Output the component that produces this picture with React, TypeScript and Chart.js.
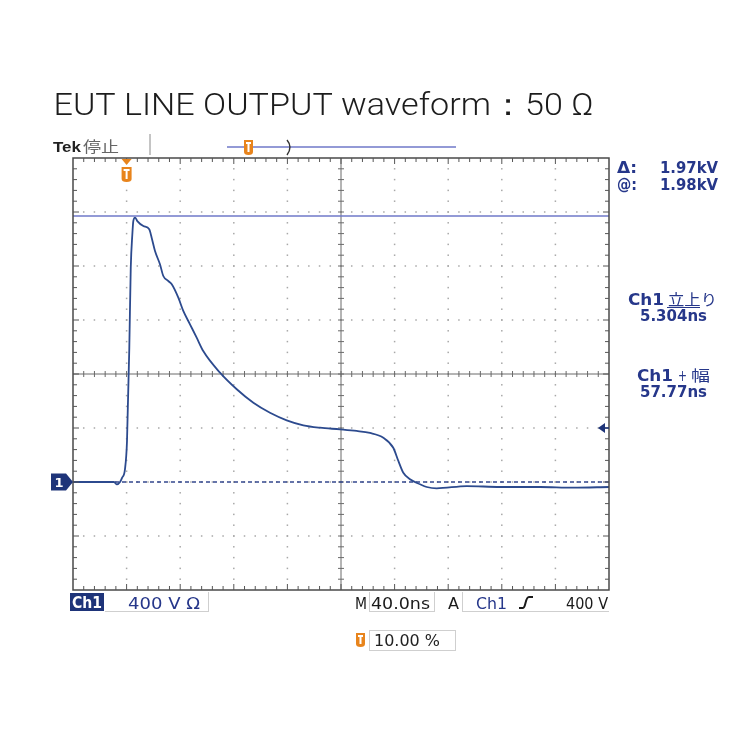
import React, { useEffect, useRef } from "react";
import { Chart, registerables } from "chart.js";

Chart.register(...registerables);

// ---- data (time in ns, Ch1 in volts relative to ground marker) ----
const timeNs = [
  0, 20, 30.6, 32.8, 35.1, 36.6, 38.8, 40.3, 42.0, 43.1, 44.3, 45.0, 46.3, 48.0,
  52.5, 56.9, 58.7, 61.2, 64.9, 67.4, 71.1, 73.7, 78.6, 82.3, 87.3, 92.3, 97.2,
  109.7, 122.2, 134.6, 147.0, 159.5, 171.9, 184.3, 199.3, 211.7, 221.6, 231.6,
  239.0, 242.8, 246.5, 251.5, 259.0, 264.0, 271.4, 293.8, 318.7, 348.5, 373.1, 400,
];
const ch1Volts = [
  0, 0, 0, -18, 0, 30, 96, 304, 985, 1585, 1837, 1933, 1959, 1933,
  1896, 1872, 1810, 1711, 1613, 1526, 1489, 1464, 1365, 1267, 1168, 1069, 970,
  810, 687, 587, 513, 457, 420, 402, 390, 378, 363, 328,
  254, 156, 69, 20, -17, -37, -47, -30, -37, -37, -42, -37,
];
const cursorLevelV = 1970;
const groundLevelV = 0;
const triggerLevelV = 400;
const triggerTimeNs = 40;
const xMinNs = 0;
const xMaxNs = 400;
const yMinV = -800;
const yMaxV = 2400;

const titleText = "EUT LINE OUTPUT waveform：50 Ω";
const readoutDelta = ["Δ:", "1.97kV"];
const readoutAt = ["@:", "1.98kV"];
const riseLabel = ["Ch1", "立上り", "5.304ns"];
const widthLabel = ["Ch1", "+", "幅", "57.77ns"];
const bottomLabels = ["Ch1", "400 V Ω", "M", "40.0ns", "A", "Ch1", "400 V"];
const triggerPosLabel = "10.00 %";

const NAVY = "#26378a";
const ORANGE = "#e8841c";
const SCOPE_FONT = "'DejaVu Sans', sans-serif";

type LblOpts = {
  size: number;
  color: string;
  weight?: string;
  family?: string;
  width?: number;
  align?: "left" | "center" | "right";
};

function label(ctx: CanvasRenderingContext2D, s: string, x: number, y: number, o: LblOpts) {
  ctx.save();
  ctx.font = `${o.weight || "normal"} ${o.size}px ${o.family || SCOPE_FONT}`;
  ctx.fillStyle = o.color;
  ctx.textBaseline = "alphabetic";
  ctx.textAlign = "left";
  const m = ctx.measureText(s).width;
  const sx = o.width ? o.width / m : 1;
  const w = m * sx;
  const x0 = o.align === "center" ? x - w / 2 : o.align === "right" ? x - w : x;
  ctx.translate(x0, y);
  ctx.scale(sx, 1);
  ctx.fillText(s, 0, 0);
  ctx.restore();
}

function tMarker(ctx: CanvasRenderingContext2D, x: number, y: number, w: number, h: number) {
  ctx.save();
  ctx.fillStyle = ORANGE;
  ctx.beginPath();
  ctx.moveTo(x, y);
  ctx.lineTo(x + w, y);
  ctx.lineTo(x + w, y + h - 3);
  ctx.quadraticCurveTo(x + w, y + h, x + w / 2, y + h);
  ctx.quadraticCurveTo(x, y + h, x, y + h - 3);
  ctx.closePath();
  ctx.fill();
  ctx.fillStyle = "#fff";
  ctx.fillRect(x + 2, y + 2, w - 4, 2);
  ctx.fillRect(x + w / 2 - 1, y + 2, 2, h - 5);
  ctx.restore();
}

const scopePlugin = {
  id: "scope",
  beforeDatasetsDraw(chart: any) {
    const { ctx, chartArea } = chart;
    const { left: L, top: T, right: R, bottom: B } = chartArea;
    const dx = (R - L) / 10;
    const dy = (B - T) / 8;
    ctx.save();
    ctx.fillStyle = "#a8a8a8";
    for (let i = 1; i < 10; i++) {
      if (i === 5) continue;
      const x = L + i * dx;
      for (let j = 1; j < 40; j++) {
        const y = T + (j * dy) / 5;
        ctx.fillRect(x - 0.75, y - 0.75, 1.5, 1.5);
      }
    }
    for (let k = 1; k < 8; k++) {
      if (k === 4) continue;
      const y = T + k * dy;
      for (let j = 1; j < 50; j++) {
        const x = L + (j * dx) / 5;
        ctx.fillRect(x - 0.75, y - 0.75, 1.5, 1.5);
      }
    }
    // centre crosshair
    const cx = L + 5 * dx;
    const cy = T + 4 * dy;
    ctx.strokeStyle = "#6a6a6a";
    ctx.lineWidth = 1;
    ctx.beginPath();
    ctx.moveTo(cx, T);
    ctx.lineTo(cx, B);
    ctx.moveTo(L, cy);
    ctx.lineTo(R, cy);
    for (let j = 1; j < 40; j++) {
      const y = T + (j * dy) / 5;
      ctx.moveTo(cx - 3, y);
      ctx.lineTo(cx + 3, y);
    }
    for (let j = 1; j < 50; j++) {
      const x = L + (j * dx) / 5;
      ctx.moveTo(x, cy - 3);
      ctx.lineTo(x, cy + 3);
    }
    ctx.stroke();
    ctx.restore();
  },
  afterDatasetsDraw(chart: any) {
    const { ctx, chartArea, scales } = chart;
    const { left: L, top: T, right: R, bottom: B } = chartArea;
    const dx = (R - L) / 10;
    const dy = (B - T) / 8;
    ctx.save();
    // frame
    ctx.strokeStyle = "#4a4a4a";
    ctx.lineWidth = 1.5;
    ctx.strokeRect(L, T, R - L, B - T);
    ctx.lineWidth = 1;
    ctx.strokeStyle = "#555";
    ctx.beginPath();
    for (let j = 1; j < 50; j++) {
      const x = L + (j * dx) / 5;
      const len = j % 5 === 0 ? 6 : 4;
      ctx.moveTo(x, T);
      ctx.lineTo(x, T + len);
      ctx.moveTo(x, B);
      ctx.lineTo(x, B - len);
    }
    for (let j = 1; j < 40; j++) {
      const y = T + (j * dy) / 5;
      const len = j % 5 === 0 ? 6 : 4;
      ctx.moveTo(L, y);
      ctx.lineTo(L + len, y);
      ctx.moveTo(R, y);
      ctx.lineTo(R - len, y);
    }
    ctx.stroke();

    // ground marker "1"
    const gy = scales.y.getPixelForValue(groundLevelV);
    ctx.fillStyle = "#1e3479";
    ctx.beginPath();
    ctx.moveTo(51, gy - 8.5);
    ctx.lineTo(66, gy - 8.5);
    ctx.lineTo(73, gy);
    ctx.lineTo(66, gy + 8.5);
    ctx.lineTo(51, gy + 8.5);
    ctx.closePath();
    ctx.fill();
    label(ctx, "1", 59, gy + 5, { size: 13, color: "#fff", weight: "bold", align: "center" });

    // trigger level arrow (right edge)
    const ty = scales.y.getPixelForValue(triggerLevelV);
    ctx.fillStyle = "#1e3479";
    ctx.beginPath();
    ctx.moveTo(R - 11, ty);
    ctx.lineTo(R - 4, ty - 5);
    ctx.lineTo(R - 4, ty + 5);
    ctx.closePath();
    ctx.fill();
    ctx.strokeStyle = "#1e3479";
    ctx.lineWidth = 1.5;
    ctx.beginPath();
    ctx.moveTo(R - 5, ty);
    ctx.lineTo(R, ty);
    ctx.stroke();

    // trigger position marker on the graticule
    const tx = scales.x.getPixelForValue(triggerTimeNs);
    ctx.fillStyle = ORANGE;
    ctx.beginPath();
    ctx.moveTo(tx - 5, T + 1);
    ctx.lineTo(tx + 5, T + 1);
    ctx.lineTo(tx, T + 7);
    ctx.closePath();
    ctx.fill();
    tMarker(ctx, tx - 5, T + 9, 10, 15);

    // top status bar
    ctx.strokeStyle = "#8a8a8a";
    ctx.lineWidth = 1;
    ctx.beginPath();
    ctx.moveTo(150, 134);
    ctx.lineTo(150, 155);
    ctx.stroke();
    ctx.strokeStyle = "#6f78c9";
    ctx.lineWidth = 1.5;
    ctx.beginPath();
    ctx.moveTo(227, 147);
    ctx.lineTo(456, 147);
    ctx.stroke();
    tMarker(ctx, 244, 140, 9, 15);
    ctx.strokeStyle = "#333";
    ctx.lineWidth = 1.4;
    ctx.beginPath();
    ctx.moveTo(287, 140);
    ctx.quadraticCurveTo(293, 147, 287, 155);
    ctx.stroke();

    label(ctx, "Tek", 53, 152, { size: 15, color: "#222", weight: "bold", family: "'Liberation Sans', sans-serif", width: 28 });
    label(ctx, "停止", 83, 152, { size: 15, color: "#666", family: "'Noto Sans CJK JP', sans-serif", width: 36 });

    // title
    label(ctx, titleText, 53.5, 115, { size: 31, color: "#1c1c1c", weight: "300", family: "Roboto, 'Liberation Sans', sans-serif", width: 540 });

    // right readouts
    const ro = { size: 15, color: NAVY, weight: "bold" };
    label(ctx, readoutDelta[0], 617, 173, { ...ro, width: 20 });
    label(ctx, readoutDelta[1], 660, 173, { ...ro, width: 58 });
    label(ctx, readoutAt[0], 617, 190, { ...ro, width: 20 });
    label(ctx, readoutAt[1], 660, 190, { ...ro, width: 58 });

    label(ctx, riseLabel[0], 628, 305, { ...ro, width: 36 });
    label(ctx, riseLabel[1], 668, 305, { ...ro, weight: "normal", family: "'Noto Sans CJK JP', sans-serif", width: 49 });
    ctx.strokeStyle = NAVY;
    ctx.lineWidth = 1;
    ctx.beginPath();
    ctx.moveTo(667, 307.5);
    ctx.lineTo(700, 307.5);
    ctx.stroke();
    label(ctx, riseLabel[2], 640, 321, { ...ro, width: 67 });

    label(ctx, widthLabel[0], 637, 381, { ...ro, width: 36 });
    label(ctx, widthLabel[1], 678, 381, { ...ro, weight: "normal", width: 9 });
    label(ctx, widthLabel[2], 691, 381, { ...ro, weight: "normal", family: "'Noto Sans CJK JP', sans-serif", width: 19 });
    label(ctx, widthLabel[3], 640, 397, { ...ro, width: 67 });

    // bottom row
    ctx.fillStyle = "#1e3479";
    ctx.fillRect(70, 593, 34, 18);
    const bt = { size: 16, weight: "normal", color: "#1a1a1a" };
    label(ctx, bottomLabels[0], 72, 608, { ...bt, weight: "bold", color: "#fff", width: 30 });
    label(ctx, bottomLabels[1], 128, 609, { ...bt, color: NAVY, width: 72 });
    label(ctx, bottomLabels[2], 355, 609, { ...bt, width: 12 });
    label(ctx, bottomLabels[3], 371, 609, { ...bt, width: 59 });
    label(ctx, bottomLabels[4], 448, 609, { ...bt, width: 11 });
    label(ctx, bottomLabels[5], 476, 609, { ...bt, color: NAVY, width: 31 });
    label(ctx, bottomLabels[6], 566, 609, { ...bt, width: 42 });
    // rising-edge slope symbol
    ctx.strokeStyle = "#1a1a1a";
    ctx.lineWidth = 2;
    ctx.beginPath();
    ctx.moveTo(519, 608);
    ctx.lineTo(523, 608);
    ctx.bezierCurveTo(526, 608, 525, 597, 529, 597);
    ctx.lineTo(533, 597);
    ctx.stroke();
    ctx.strokeStyle = "#cfcfcf";
    ctx.lineWidth = 1;
    ctx.beginPath();
    for (const vx of [208.5, 369.5, 434.5, 462.5]) {
      ctx.moveTo(vx, 592);
      ctx.lineTo(vx, 612);
    }
    ctx.moveTo(105, 611.5);
    ctx.lineTo(208, 611.5);
    ctx.moveTo(369, 611.5);
    ctx.lineTo(434, 611.5);
    ctx.moveTo(462, 611.5);
    ctx.lineTo(609, 611.5);
    ctx.stroke();

    // trigger position readout
    tMarker(ctx, 356, 633, 9, 14);
    ctx.strokeStyle = "#cfcfcf";
    ctx.strokeRect(369.5, 630.5, 86, 20);
    label(ctx, triggerPosLabel, 374, 646, { size: 15, color: "#222", width: 66 });

    ctx.restore();
  },
};

export default function App() {
  const ref = useRef<HTMLCanvasElement | null>(null);
  useEffect(() => {
    if (!ref.current) return;
    const chart = new Chart(ref.current, {
      type: "line",
      data: {
        datasets: [
          {
            label: "Ch1",
            data: timeNs.map((t, i) => ({ x: t, y: ch1Volts[i] })),
            borderColor: "#2c4a8e",
            borderWidth: 1.8,
            pointRadius: 0,
            cubicInterpolationMode: "monotone",
            order: 1,
          },
          {
            label: "cursor",
            data: [
              { x: xMinNs, y: cursorLevelV },
              { x: xMaxNs, y: cursorLevelV },
            ],
            borderColor: "#6f78c9",
            borderWidth: 1.5,
            pointRadius: 0,
            order: 2,
          },
          {
            label: "ground",
            data: [
              { x: xMinNs, y: groundLevelV },
              { x: xMaxNs, y: groundLevelV },
            ],
            borderColor: "#34488f",
            borderWidth: 1.6,
            borderDash: [4, 3],
            pointRadius: 0,
            order: 3,
          },
        ],
      },
      options: {
        responsive: false,
        animation: false,
        devicePixelRatio: 1,
        events: [],
        layout: { padding: { left: 73, right: 141, top: 158, bottom: 160 } },
        plugins: { legend: { display: false }, tooltip: { enabled: false } },
        scales: {
          x: { type: "linear", min: xMinNs, max: xMaxNs, display: false },
          y: { type: "linear", min: yMinV, max: yMaxV, display: false },
        },
      } as any,
      plugins: [scopePlugin],
    });
    return () => chart.destroy();
  }, []);
  return (
    <div style={{ position: "absolute", left: 0, top: 0, width: 750, height: 750, background: "#fff" }}>
      <canvas ref={ref} width={750} height={750} style={{ width: 750, height: 750, display: "block" }} />
    </div>
  );
}
